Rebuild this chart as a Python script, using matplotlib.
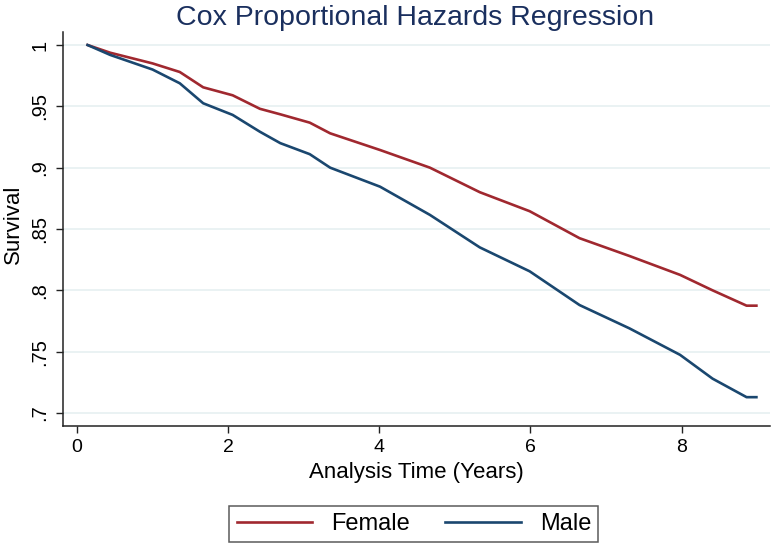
import matplotlib
matplotlib.use("Agg")
import matplotlib.pyplot as plt

plt.rcParams['font.family'] = ['Liberation Sans', 'DejaVu Sans']

# survival curves
female_t = [0.14, 0.44, 1.00, 1.36, 1.67, 2.06, 2.42, 2.69, 3.08, 3.35, 4.01, 4.67,
            5.33, 5.99, 6.65, 7.31, 7.98, 8.41, 8.86, 8.99]
female_s = [1.000, 0.9937, 0.985, 0.978, 0.9655, 0.959, 0.948, 0.9435, 0.9367, 0.928,
            0.9144, 0.900, 0.880, 0.8645, 0.8425, 0.828, 0.8126, 0.800, 0.7875, 0.7875]

male_t = [0.14, 0.44, 1.00, 1.36, 1.67, 2.06, 2.42, 2.69, 3.08, 3.35, 4.01, 4.67,
          5.33, 5.99, 6.65, 7.31, 7.98, 8.41, 8.86, 8.99]
male_s = [1.000, 0.9919, 0.980, 0.9688, 0.9525, 0.943, 0.9293, 0.920, 0.911, 0.900,
          0.8845, 0.8615, 0.835, 0.8155, 0.788, 0.769, 0.7474, 0.728, 0.7129, 0.7129]

x_ticks = [0, 2, 4, 6, 8]
y_ticks = [0.7, 0.75, 0.8, 0.85, 0.9, 0.95, 1.0]
y_labels = ['.7', '.75', '.8', '.85', '.9', '.95', '1']

fig = plt.figure(figsize=(7.72, 5.47), dpi=100)
ax = fig.add_axes([63 / 772, 1 - 426 / 547, 707 / 772, 394 / 547])

ax.plot(female_t, female_s, color='#a0282f', lw=1.9, label='Female')
ax.plot(male_t, male_s, color='#1a476f', lw=1.9, label='Male')

ax.set_xlim(-0.185, 9.17)
ax.set_ylim(0.6894, 1.0106)
ax.set_xticks(x_ticks)
ax.set_yticks(y_ticks)
ax.set_yticklabels(y_labels, rotation=90, va='center')
ax.tick_params(axis='x', labelsize=14, length=5, width=1, color='#222222', pad=4)
ax.tick_params(axis='y', labelsize=14.5, length=5, width=1, color='#222222', pad=5)

ax.grid(axis='y', color='#e6f0f1', lw=1.2)
ax.set_axisbelow(True)
for side in ['top', 'right']:
    ax.spines[side].set_visible(False)
for side in ['left', 'bottom']:
    ax.spines[side].set_linewidth(1.1)
    ax.spines[side].set_color('#222222')

ax.set_xlabel('Analysis Time (Years)', fontsize=16, labelpad=5)
fig.text(13 / 772, 1 - 224 / 547, 'Survival', rotation=90, ha='center', va='center',
         fontsize=16)
fig.text(0.537, 1 - 25 / 547, 'Cox Proportional Hazards Regression', ha='center',
         va='baseline', fontsize=20.5, color='#1a2f5e')

leg = fig.legend(loc='center', bbox_to_anchor=(0.536, 0.042), ncol=2, fontsize=17,
                 frameon=True, fancybox=False, edgecolor='#333333', handlelength=3.2,
                 columnspacing=1.5, borderpad=0.3)
leg.get_frame().set_linewidth(1.1)

fig.savefig('out.png', dpi=100)
